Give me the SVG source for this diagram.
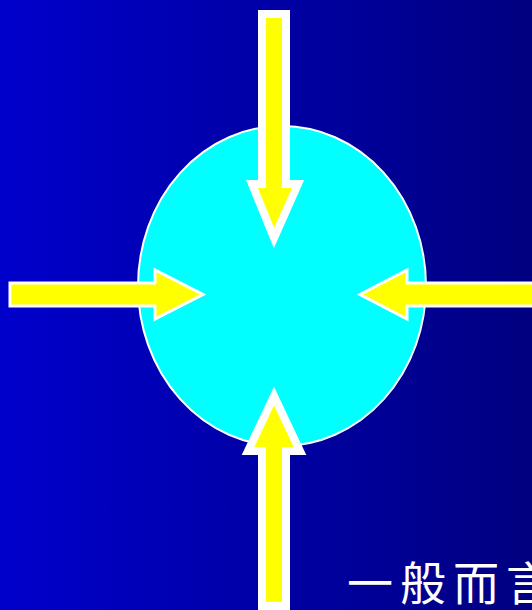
<svg xmlns="http://www.w3.org/2000/svg" width="532" height="610" viewBox="0 0 532 610">
<defs>
<linearGradient id="bg" x1="0" y1="0" x2="1" y2="0">
<stop offset="0" stop-color="#0000CC"/>
<stop offset="1" stop-color="#000080"/>
</linearGradient>
<style>
.arrow{fill:#FFFF00;stroke:#FFFFFF;stroke-linejoin:miter;stroke-miterlimit:10}
.thick{stroke-width:8}
.thin{stroke-width:3}
.lbl{font-family:"Noto Sans CJK TC","Noto Sans CJK SC",sans-serif;font-size:46px;fill:#FFFFFF;letter-spacing:7px}
</style>
</defs>
<rect x="0" y="0" width="532" height="610" fill="url(#bg)"/>
<g id="cell">
<ellipse cx="282" cy="286" rx="144" ry="160" fill="#00FFFF" stroke="#FFFFFF" stroke-width="2"/>
</g>
<g id="connectors">
<g id="arrow-top"><path class="arrow thick" d="M262,14 H286 V184 H298 L274,238 L252,184 H262 Z"/></g>
<g id="arrow-left"><path class="arrow thin" d="M10,283 H155 V270 L203,294.5 L155,319 V306 H10 Z"/></g>
<g id="arrow-right"><path class="arrow thin" d="M540,283 H407 V270 L360,294.5 L407,319 V306 H540 Z"/></g>
<g id="arrow-bottom"><path class="arrow thick" d="M262,606 H286 V451 H300 L274,396 L248,451 H262 Z"/></g>
</g>
<g id="caption">
<text class="lbl" x="347" y="600">一般而言</text>
</g>
</svg>
